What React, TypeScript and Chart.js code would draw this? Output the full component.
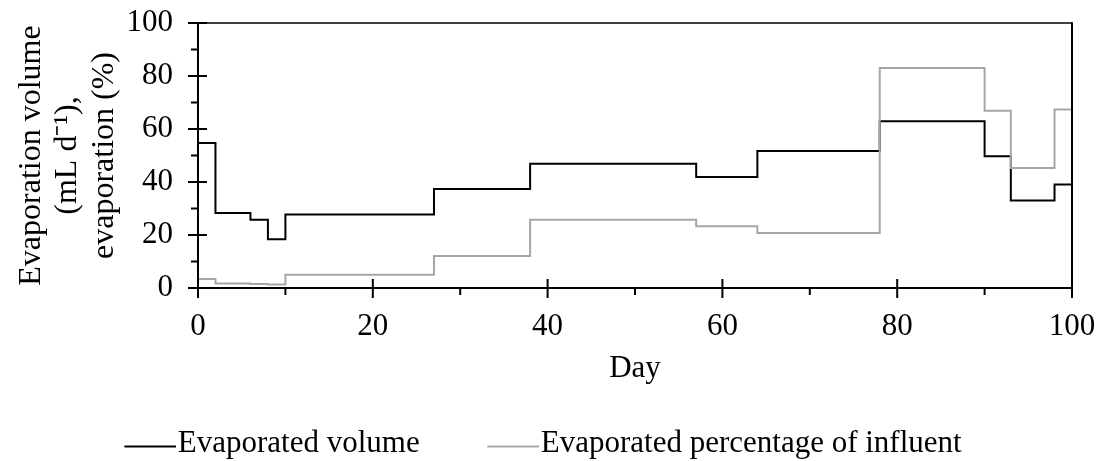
import React, { useEffect, useRef } from 'react';
import { Chart, registerables } from 'chart.js';

Chart.register(...registerables);

// ---- data ----
const stepDays = [0, 2, 6, 8, 10, 27, 38, 57, 64, 78, 90, 93, 98, 100];
const evaporatedVolume = [54.7, 28.3, 25.8, 18.4, 27.7, 37.4, 46.9, 41.9, 51.7, 62.9, 49.7, 33.0, 39.1, 39.1];
const evaporatedPercent = [3.4, 1.7, 1.5, 1.3, 5.0, 12.1, 25.8, 23.3, 20.8, 83.0, 66.9, 45.3, 67.4, 67.4];

const seriesNames = ['Evaporated volume', 'Evaporated percentage of influent'];
const seriesColors = ['#000000', '#A6A6A6'];

const xMajorTicks = [0, 20, 40, 60, 80, 100];
const xMinorTicks = [10, 30, 50, 70, 90];
const yMajorTicks = [0, 20, 40, 60, 80, 100];
const yMinorTicks = [10, 30, 50, 70, 90];

const xTitle = 'Day';
const yTitleLines = ['Evaporation volume', '(mL d\u207B\u00B9),', 'evaporation (%)'];

const FONT = 'Liberation Serif, "Times New Roman", serif';

// legend swatch: a short line sitting right next to the label text
function makeLegendLine(color: string): HTMLCanvasElement {
  const c = document.createElement('canvas');
  c.width = 68;
  c.height = 10;
  const g = c.getContext('2d');
  if (g) {
    g.fillStyle = color;
    g.fillRect(16, 7, 52, 2);
  }
  return c;
}

const axesDecor = {
  id: 'axesDecor',
  afterDatasetsDraw(chart: any) {
    const { ctx, chartArea: a, scales } = chart;
    const x = scales.x;
    const y = scales.y;
    ctx.save();
    ctx.strokeStyle = '#000';
    ctx.lineCap = 'butt';
    const seg = (x1: number, y1: number, x2: number, y2: number, w: number) => {
      ctx.lineWidth = w;
      ctx.beginPath();
      ctx.moveTo(x1, y1);
      ctx.lineTo(x2, y2);
      ctx.stroke();
    };
    // frame top & right
    seg(a.left, a.top, a.right, a.top, 1.4);
    seg(a.right, a.top - 0.7, a.right, a.bottom, 2);
    // axis lines
    seg(a.left, a.top - 0.7, a.left, a.bottom + 1, 2);
    seg(a.left - 1, a.bottom, a.right + 1, a.bottom, 2);
    // x ticks
    xMajorTicks.forEach((v) => {
      const px = x.getPixelForValue(v);
      seg(px, a.bottom - 9, px, a.bottom + 10, 2);
    });
    xMinorTicks.forEach((v) => {
      const px = x.getPixelForValue(v);
      seg(px, a.bottom, px, a.bottom + 7, 2);
    });
    // y ticks
    yMajorTicks.forEach((v) => {
      const py = y.getPixelForValue(v);
      seg(a.left - 10, py, a.left + 9, py, 2);
    });
    yMinorTicks.forEach((v) => {
      const py = y.getPixelForValue(v);
      seg(a.left - 7, py, a.left, py, 2);
    });
    ctx.restore();
  },
};

export default function App() {
  const canvasRef = useRef<HTMLCanvasElement | null>(null);

  useEffect(() => {
    const canvas = canvasRef.current;
    if (!canvas) return;
    const toPoints = (vals: number[]) => stepDays.map((d, i) => ({ x: d, y: vals[i] }));
    const legendLines = seriesColors.map((c) => makeLegendLine(c));
    const defaultLabels = (Chart as any).defaults.plugins.legend.labels.generateLabels;

    const chart = new Chart(canvas, {
      type: 'line',
      data: {
        datasets: [
          {
            label: seriesNames[0],
            data: toPoints(evaporatedVolume),
            borderColor: seriesColors[0],
            backgroundColor: seriesColors[0],
            borderWidth: 2,
            pointRadius: 0,
            stepped: 'before',
            tension: 0,
            fill: false,
            order: 1,
          },
          {
            label: seriesNames[1],
            data: toPoints(evaporatedPercent),
            borderColor: seriesColors[1],
            backgroundColor: seriesColors[1],
            borderWidth: 2,
            pointRadius: 0,
            stepped: 'before',
            tension: 0,
            fill: false,
            order: 0,
          },
        ],
      },
      options: {
        responsive: false,
        maintainAspectRatio: false,
        animation: false,
        layout: { padding: { left: 12, right: 28, top: 23, bottom: 0 } },
        plugins: {
          tooltip: { enabled: false },
          legend: {
            display: true,
            position: 'bottom',
            labels: {
              usePointStyle: true,
              pointStyleWidth: 40,
              padding: 65.6,
              color: '#000',
              font: { family: FONT, size: 31 },
              sort: (a: any, b: any) => a.datasetIndex - b.datasetIndex,
              generateLabels: (ch: any) =>
                defaultLabels(ch).map((it: any) => ({ ...it, pointStyle: legendLines[it.datasetIndex] })),
            },
          },
        },
        scales: {
          x: {
            type: 'linear',
            min: 0,
            max: 100,
            grid: { display: false, drawTicks: false },
            border: { display: false },
            ticks: {
              stepSize: 20,
              color: '#000',
              padding: 20,
              maxRotation: 0,
              font: { family: FONT, size: 31, lineHeight: 1.2 },
            },
            title: {
              display: true,
              text: xTitle,
              color: '#000',
              font: { family: FONT, size: 31, lineHeight: 1 },
              padding: { top: 0, bottom: -21.6 },
            },
            afterFit: (scale: any) => {
              scale.height = 74.4;
              scale.paddingLeft = 0;
              scale.paddingRight = 0;
            },
          },
          y: {
            type: 'linear',
            min: 0,
            max: 100,
            grid: { display: false, drawTicks: false },
            border: { display: false },
            ticks: {
              stepSize: 20,
              color: '#000',
              padding: 25,
              font: { family: FONT, size: 31, lineHeight: 1.2 },
            },
            title: {
              display: true,
              text: yTitleLines,
              color: '#000',
              font: { family: FONT, size: 32, lineHeight: 1.14 },
              padding: { top: 1, bottom: 0 },
            },
            afterFit: (scale: any) => {
              scale.width = 186;
              scale.paddingTop = 0;
              scale.paddingBottom = 0;
            },
          },
        },
      },
      plugins: [axesDecor],
    } as any);

    return () => {
      chart.destroy();
    };
  }, []);

  return (
    <div style={{ position: 'fixed', left: 0, top: 0, width: 1100, height: 461, overflow: 'hidden', background: '#fff' }}>
      <canvas ref={canvasRef} width={1100} height={469} style={{ display: 'block', width: 1100, height: 469 }} />
    </div>
  );
}
